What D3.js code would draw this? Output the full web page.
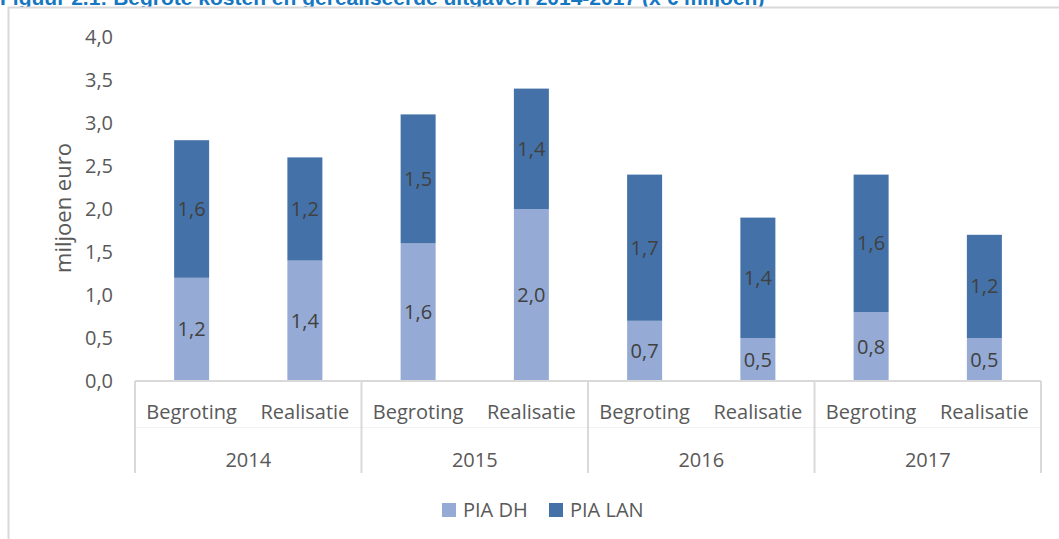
<!DOCTYPE html>
<html>
<head>
<meta charset="utf-8">
<title>Begrote kosten en gerealiseerde uitgaven</title>
<script src="https://cdn.jsdelivr.net/npm/d3@7"></script>
<style>
  body { margin: 0; background: #fff; }
  text { font-family: "Open Sans", sans-serif; }
</style>
</head>
<body>
<div id="chart"></div>
<script>
// data
var years = ["2014", "2015", "2016", "2017"];
var types = ["Begroting", "Realisatie"];
var piaDH  = [1.2, 1.4, 1.6, 2.0, 0.7, 0.5, 0.8, 0.5];
var piaLAN = [1.6, 1.2, 1.5, 1.4, 1.7, 1.4, 1.6, 1.2];
var seriesNames = ["PIA DH", "PIA LAN"];
var yTicks = [0, 0.5, 1, 1.5, 2, 2.5, 3, 3.5, 4];

var width = 1059, height = 539;
var colors = ["#95abd5", "#4472a8"];
var textColor = "#595959";
var lineColor = "#d9d9d9";

var svg = d3.select("#chart").append("svg")
  .attr("width", width)
  .attr("height", height);

// title (cut off at the top, like the source)
svg.append("text")
  .attr("x", 0)
  .attr("y", 5)
  .style("font-family", "Liberation Sans, Arial, sans-serif")
  .style("font-weight", "bold")
  .style("font-size", "21px")
  .style("fill", "#1677c2")
  .text("Figuur 2.1: Begrote kosten en gerealiseerde uitgaven 2014-2017 (x € miljoen)");

// chart border
svg.append("rect")
  .attr("x", 8.5).attr("y", 7.5)
  .attr("width", 1100).attr("height", 600)
  .attr("fill", "#fff")
  .attr("stroke", lineColor)
  .attr("stroke-width", 2);

// scales
var y = d3.scaleLinear().domain([0, 4]).range([381, 37]);
var x0 = d3.scaleBand().domain(years).range([135, 1041]);
var x1 = d3.scaleBand().domain(types).range([0, x0.bandwidth()]);
var barW = 35;

// rows: one per bar
var rows = [];
years.forEach(function(yr, i) {
  types.forEach(function(t, j) {
    var k = i * 2 + j;
    rows.push({ year: yr, type: t, vals: [piaDH[k], piaLAN[k]] });
  });
});

var stackData = d3.stack().keys([0, 1]).value(function(d, key) { return d.vals[key]; })(rows);

function barX(d) {
  return x0(d.data.year) + x1(d.data.type) + (x1.bandwidth() - barW) / 2;
}

var layers = svg.selectAll("g.layer").data(stackData).enter().append("g")
  .attr("class", "layer")
  .attr("fill", function(d, i) { return colors[i]; });

layers.selectAll("rect").data(function(d) { return d; }).enter().append("rect")
  .attr("x", barX)
  .attr("y", function(d) { return y(d[1]); })
  .attr("width", barW)
  .attr("height", function(d) { return y(d[0]) - y(d[1]); });

// data labels
layers.selectAll("text").data(function(d) { return d; }).enter().append("text")
  .attr("x", function(d) { return barX(d) + barW / 2; })
  .attr("y", function(d) { return (y(d[0]) + y(d[1])) / 2; })
  .attr("dy", "0.35em")
  .attr("text-anchor", "middle")
  .style("font-size", "20px")
  .style("fill", "#404040")
  .text(function(d) { return d3.format(".1f")(d[1] - d[0]).replace(".", ","); });

// y axis
var yAxis = svg.append("g")
  .attr("transform", "translate(113,0)")
  .call(d3.axisLeft(y).tickValues(yTicks).tickSize(0).tickPadding(0)
    .tickFormat(function(d) { return d3.format(".1f")(d).replace(".", ","); }));
yAxis.select(".domain").remove();
yAxis.selectAll("text")
  .style("font-family", "Open Sans, sans-serif")
  .style("font-size", "20px")
  .style("fill", textColor);

svg.append("text")
  .attr("transform", "translate(63,208) rotate(-90)")
  .attr("dy", "0.35em")
  .attr("text-anchor", "middle")
  .style("font-size", "22px")
  .style("fill", textColor)
  .text("miljoen euro");

// x axis (two levels)
var axisY = 381;
svg.append("line")
  .attr("x1", 135).attr("x2", 1041)
  .attr("y1", axisY).attr("y2", axisY)
  .attr("stroke", lineColor).attr("stroke-width", 2);

svg.append("line")
  .attr("x1", 135).attr("x2", 1041)
  .attr("y1", 427.5).attr("y2", 427.5)
  .attr("stroke", "#f2f2f2").attr("stroke-width", 1);

var bounds = years.map(function(d) { return x0(d); }).concat([x0.range()[1]]);
svg.selectAll("line.sep").data(bounds).enter().append("line")
  .attr("class", "sep")
  .attr("x1", function(d) { return d; }).attr("x2", function(d) { return d; })
  .attr("y1", axisY).attr("y2", 473)
  .attr("stroke", lineColor).attr("stroke-width", 2);

svg.selectAll("text.sub").data(rows).enter().append("text")
  .attr("class", "sub")
  .attr("x", function(d) { return x0(d.year) + x1(d.type) + x1.bandwidth() / 2; })
  .attr("y", 412)
  .attr("dy", "0.35em")
  .attr("text-anchor", "middle")
  .style("font-size", "20px")
  .style("fill", textColor)
  .text(function(d) { return d.type; });

svg.selectAll("text.year").data(years).enter().append("text")
  .attr("class", "year")
  .attr("x", function(d) { return x0(d) + x0.bandwidth() / 2; })
  .attr("y", 460)
  .attr("dy", "0.35em")
  .attr("text-anchor", "middle")
  .style("font-size", "20px")
  .style("fill", textColor)
  .text(function(d) { return d; });

// legend
var legendX = [442, 549];
var legend = svg.selectAll("g.legend").data(seriesNames).enter().append("g")
  .attr("class", "legend")
  .attr("transform", function(d, i) { return "translate(" + legendX[i] + ",503)"; });
legend.append("rect")
  .attr("width", 14).attr("height", 14)
  .attr("fill", function(d, i) { return colors[i]; });
legend.append("text")
  .attr("x", 21).attr("y", 7)
  .attr("dy", "0.35em")
  .style("font-size", "20px")
  .style("fill", textColor)
  .text(function(d) { return d; });
</script>
</body>
</html>
